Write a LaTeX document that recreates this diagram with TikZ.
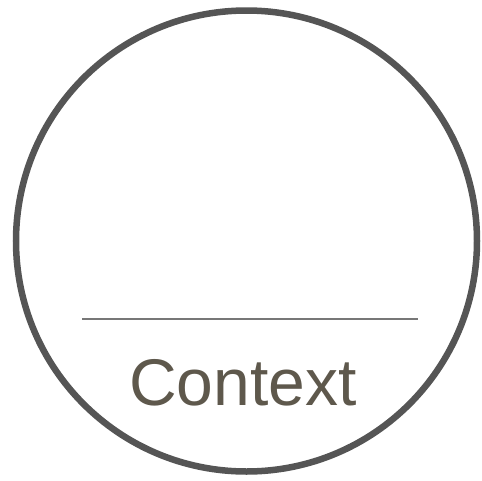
\documentclass[tikz,border=0pt]{standalone}
\usepackage{fontspec}
\setmainfont{Liberation Sans}
\usepackage{xcolor}
\definecolor{frim}{HTML}{555555}
\definecolor{frule}{HTML}{777777}
\definecolor{ftext}{HTML}{5E584C}
\tikzset{
  rim/.style      = {draw=frim, line width=6.5pt},
  divider/.style  = {draw=frule, line width=1.8pt},
  caption/.style  = {text=ftext, inner sep=0pt, anchor=base,
                     font=\fontsize{66}{72}\selectfont},
}

\begin{document}
\begin{tikzpicture}[x=1pt,y=-1pt]
\useasboundingbox (0,0) rectangle (482,480);
\coordinate (centre) at (246.5,241);
\draw[rim] (centre) circle (230.5);
\coordinate (ruleL) at (82,319);
\coordinate (ruleR) at (418,319);
\draw[divider] (ruleL) -- (ruleR);
\node[caption] (ctx) at (243,405) {Context};
\end{tikzpicture}
\end{document}
